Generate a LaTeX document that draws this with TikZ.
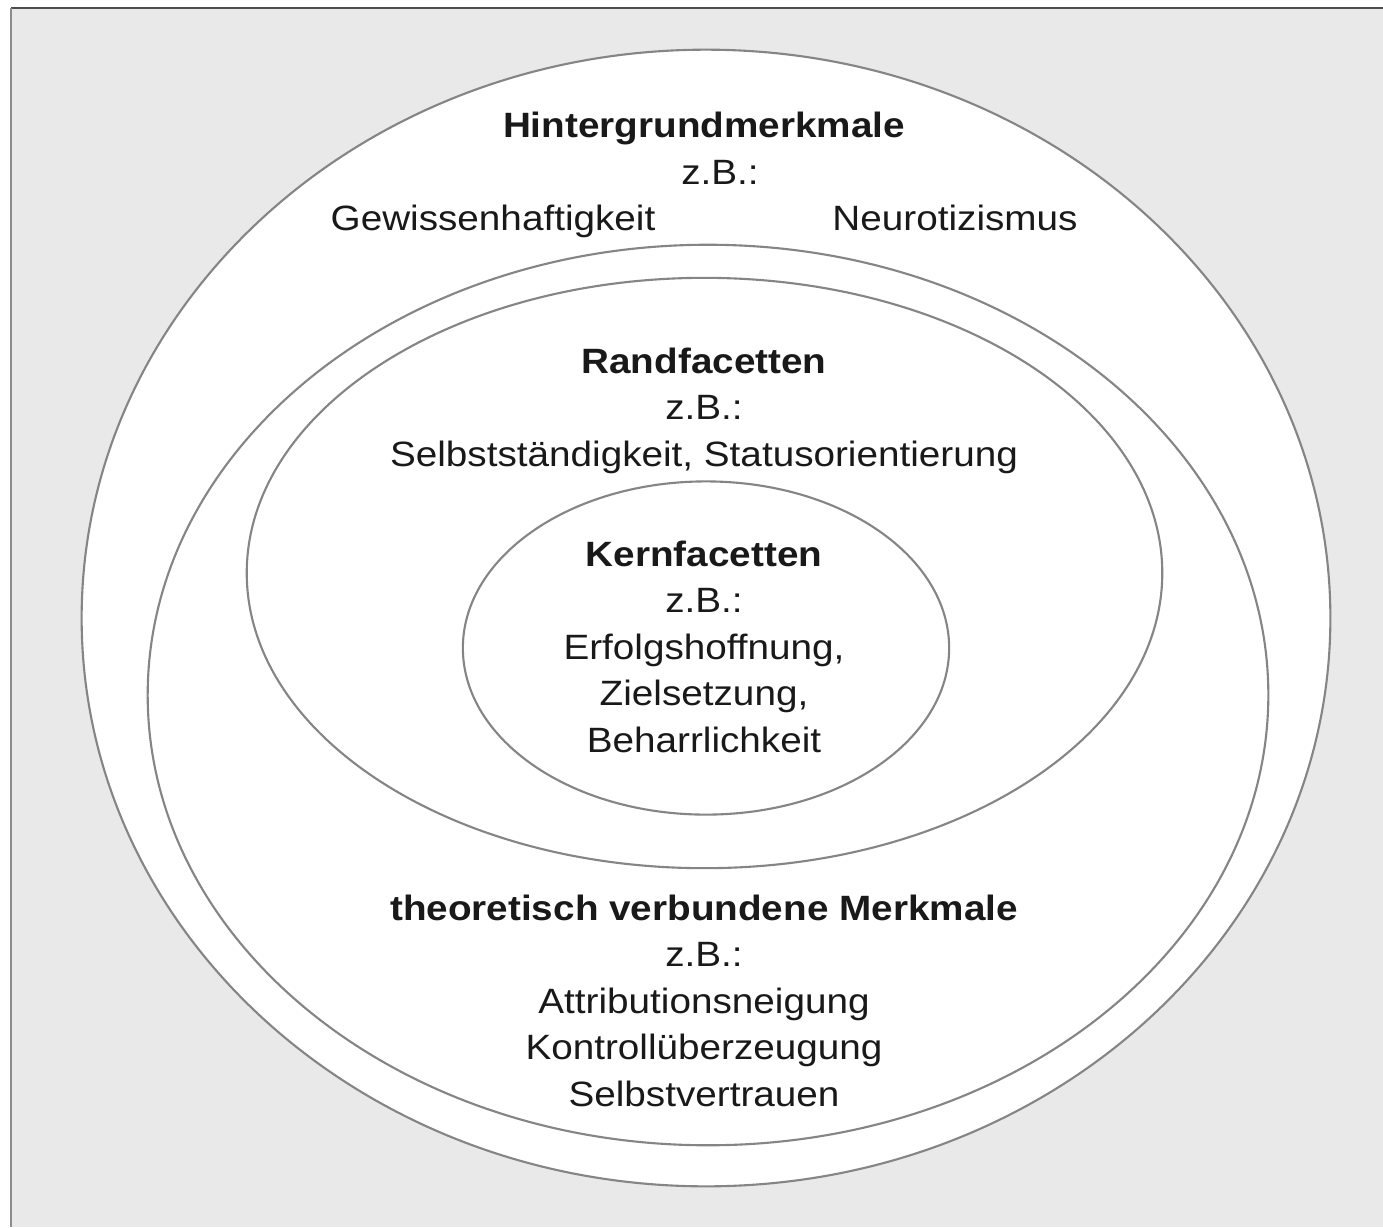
\documentclass[tikz,border=0pt]{standalone}
\usepackage{fontspec}
\setmainfont{Liberation Sans}[FakeStretch=1.1]
\usepackage{xcolor}
\usepackage{tikz}
\usetikzlibrary{shapes.geometric}

\definecolor{panelgray}{HTML}{E9E9E9}
\definecolor{ringline}{HTML}{858585}

\begin{document}
\begin{tikzpicture}[
    x=0.01cm, y=-0.01cm,
    ring/.style={
        draw=ringline,
        fill=white,
        ellipse,
        line width=0.6pt,
        inner sep=0pt
    },
    ringtext/.style={
        align=center,
        inner sep=0pt,
        text=black!90,
        font=\fontsize{10}{13.25}\selectfont
    }
]
\useasboundingbox (0,0) rectangle (1383,1227);
\fill[white] (0,0) rectangle (1383,1227);
\fill[panelgray] (11,8) rectangle (1383,1227);
\draw[black!70, line width=0.6pt] (11,8) -- (1383,8);
\draw[black!45, line width=0.6pt] (11,8) -- (11,1227);

% nested rings, outside in
\node[ring, minimum width=12.48cm, minimum height=11.36cm] (outer) at (706,618) {};
\node[ring, minimum width=11.2cm, minimum height=9.0cm] (linked) at (708,695) {};
\node[ring, minimum width=9.15cm, minimum height=5.9cm] (rand) at (704.5,573) {};
\node[ring, minimum width=4.86cm, minimum height=3.33cm] (kern) at (706,648) {};

\node[ringtext, anchor=base] (hinter) at (704,137) {\textbf{Hintergrundmerkmale}};
\node[ringtext, anchor=base] (hinterzb) at (720,184) {z.B.:};
\node[ringtext, anchor=base] (gewissen) at (493,230) {Gewissenhaftigkeit};
\node[ringtext, anchor=base] (neuro) at (955,230) {Neurotizismus};

\node[ringtext, anchor=north] (randtext) at (704,347)
    {\textbf{Randfacetten}\\z.B.:\\Selbstständigkeit, Statusorientierung};
\node[ringtext, anchor=north] (kerntext) at (704,540)
    {\textbf{Kernfacetten}\\z.B.:\\Erfolgshoffnung,\\Zielsetzung,\\Beharrlichkeit};
\node[ringtext, anchor=north] (linkedtext) at (704,894)
    {\textbf{theoretisch verbundene Merkmale}\\z.B.:\\Attributionsneigung\\Kontrollüberzeugung\\Selbstvertrauen};
\end{tikzpicture}
\end{document}
